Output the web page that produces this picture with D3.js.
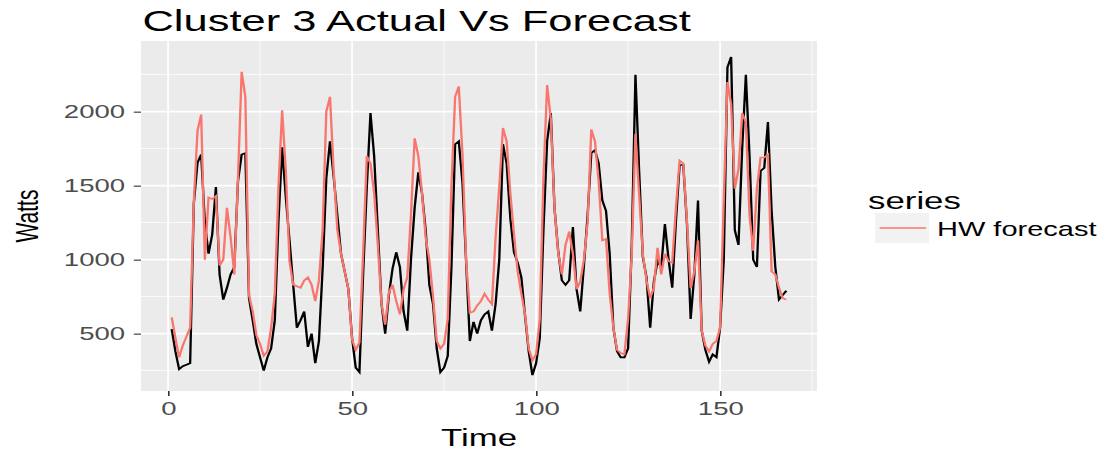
<!DOCTYPE html>
<html>
<head>
<meta charset="utf-8">
<script src="https://cdn.jsdelivr.net/npm/d3@7"></script>
<style>
  body { margin: 0; background: #fff; }
  text { font-family: "Liberation Sans", Arial, sans-serif; }
</style>
</head>
<body>
<svg class="svg"></svg>
<script>
// values, one per time step (1..168)
const actual = [
  530, 380, 260, 280, 290, 300, 1380, 1655, 1710, 1250, 1040, 1170, 1490, 900, 730, 810, 900, 950, 1530, 1710,
  1720, 740, 590, 430, 340, 250, 340, 400, 590, 1260, 1760, 1420, 1130, 830, 540, 590,
  650, 410, 500, 300, 450, 940, 1550, 1800, 1560, 1300, 1040, 920, 800, 470, 270, 240, 900, 1490, 1990, 1700,
  1200, 700, 500, 760, 940, 1050, 950, 650, 520, 1000, 1350, 1590, 1450, 1200, 830, 700,
  400, 240, 270, 350, 950, 1780, 1800, 1520, 980, 450, 580, 500, 590, 630, 650, 520, 700, 1000, 1780, 1650,
  1280, 1050, 980, 880, 620, 380, 220, 300, 470, 1200, 1800, 1990, 1350, 1060, 860, 830,
  860, 1220, 800, 650, 960, 1300, 1720, 1740, 1650, 1400, 1330, 1040, 540, 380, 340, 340, 400, 1100, 2250, 1600,
  1020, 880, 540, 850, 990, 950, 1240, 1000, 810, 1260, 1640, 1640, 1240, 600, 900, 1400,
  520, 390, 310, 360, 340, 540, 1000, 2300, 2370, 1200, 1100, 1750, 2250, 1700, 1000, 950, 1600, 1620, 1930, 1330,
  950, 730, 760, 790
];
const hwForecast = [
  610, 470, 340, 420, 480, 540, 1390, 1870, 1980, 1000, 1420, 1410, 1430, 960, 1000, 1350, 1150, 900, 1550, 2270,
  2100, 760, 650, 490, 430, 350, 380, 540, 770, 1490, 2010, 1600, 990, 830, 820, 810,
  860, 880, 830, 720, 860, 1200, 2000, 2100, 1600, 1200, 1040, 920, 800, 460, 390, 440, 1040, 1700, 1650, 1450,
  1100, 700, 560, 780, 830, 720, 630, 800, 880, 1300, 1820, 1700, 1450, 1150, 1000, 750,
  450, 400, 430, 600, 1500, 2100, 2170, 1710, 990, 640, 650, 690, 720, 770, 730, 700, 1150, 1490, 1890, 1800,
  1450, 1170, 920, 770, 630, 400, 320, 360, 600, 1550, 2180, 1950, 1350, 1050, 900, 1100,
  1190, 1040, 800, 850, 1000, 1250, 1880, 1800, 1530, 1130, 1140, 770, 540, 390, 370, 360, 600, 1040, 1850, 1440,
  1040, 860, 740, 810, 1080, 900, 1040, 990, 980, 1350, 1670, 1650, 1260, 810, 920, 1130,
  520, 420, 380, 430, 450, 540, 1400, 2200, 2050, 1480, 1610, 1990, 1930, 1300, 1060, 1480, 1690, 1690, 1710, 920,
  900, 810, 740, 730
];
const time = actual.map((d, i) => i + 1);
const xTicks = [0, 50, 100, 150];
const xMinor = [25, 75, 125, 175];
const yTicks = [500, 1000, 1500, 2000];
const yMinor = [250, 750, 1250, 1750, 2250];

// the reference is stretched sideways, so draw in a narrower box and let the viewBox stretch it
const W = 768, H = 450;
const svg = d3.select(".svg")
  .attr("width", 1113).attr("height", 450)
  .attr("viewBox", `0 0 ${W} ${H}`)
  .attr("preserveAspectRatio", "none");

const panel = { left: 97.3, right: 563.8, top: 41, bottom: 391 };

// ggplot style 5% expansion
const xr = d3.extent(time), yr = d3.extent(actual.concat(hwForecast));
const xPad = (xr[1] - xr[0]) * 0.05, yPad = (yr[1] - yr[0]) * 0.05;
const x = d3.scaleLinear().domain([xr[0] - xPad, xr[1] + xPad]).range([panel.left, panel.right]);
const y = d3.scaleLinear().domain([yr[0] - yPad, yr[1] + yPad]).range([panel.bottom, panel.top]);

svg.append("rect")
  .attr("x", panel.left).attr("y", panel.top)
  .attr("width", panel.right - panel.left).attr("height", panel.bottom - panel.top)
  .attr("fill", "#EBEBEB");

const grid = svg.append("g");
grid.selectAll(".ym").data(yMinor).join("line")
  .attr("x1", panel.left).attr("x2", panel.right)
  .attr("y1", d => y(d)).attr("y2", d => y(d))
  .attr("stroke", "#fff").attr("stroke-width", 0.8);
grid.selectAll(".xm").data(xMinor.filter(d => x(d) < panel.right)).join("line")
  .attr("y1", panel.top).attr("y2", panel.bottom)
  .attr("x1", d => x(d)).attr("x2", d => x(d))
  .attr("stroke", "#fff").attr("stroke-width", 0.6);
grid.selectAll(".yM").data(yTicks).join("line")
  .attr("x1", panel.left).attr("x2", panel.right)
  .attr("y1", d => y(d)).attr("y2", d => y(d))
  .attr("stroke", "#fff").attr("stroke-width", 1.6);
grid.selectAll(".xM").data(xTicks).join("line")
  .attr("y1", panel.top).attr("y2", panel.bottom)
  .attr("x1", d => x(d)).attr("x2", d => x(d))
  .attr("stroke", "#fff").attr("stroke-width", 1.2);

const line = d3.line().x((d, i) => x(time[i])).y(d => y(d));
svg.append("path").datum(actual)
  .attr("d", line).attr("fill", "none")
  .attr("stroke", "#000").attr("stroke-width", 1.6);
svg.append("path").datum(hwForecast)
  .attr("d", line).attr("fill", "none")
  .attr("stroke", "#F8766D").attr("stroke-width", 1.6);

// axes
const xAxis = svg.append("g")
  .attr("transform", `translate(0,${panel.bottom})`)
  .call(d3.axisBottom(x).tickValues(xTicks).tickFormat(d3.format("d")).tickSize(5).tickPadding(6));
const yAxis = svg.append("g")
  .attr("transform", `translate(${panel.left},0)`)
  .call(d3.axisLeft(y).tickValues(yTicks).tickFormat(d3.format("d")).tickSize(5).tickPadding(6));
[xAxis, yAxis].forEach(a => {
  a.select(".domain").remove();
  a.selectAll(".tick line").attr("stroke", "#333").attr("stroke-width", 1.1);
  a.selectAll(".tick text")
    .attr("fill", "#4D4D4D")
    .style("font-family", "'Liberation Sans', Arial, sans-serif")
    .style("font-size", "19px");
});

svg.append("text")
  .attr("x", panel.left + 1).attr("y", 31)
  .attr("font-size", 30).attr("fill", "#000")
  .text("Cluster 3 Actual Vs Forecast");

svg.append("text")
  .attr("x", (panel.left + panel.right) / 2).attr("y", 446)
  .attr("text-anchor", "middle").attr("font-size", 24)
  .text("Time");

svg.append("text")
  .attr("transform", `translate(26,${(panel.top + panel.bottom) / 2}) rotate(-90)`)
  .attr("text-anchor", "middle").attr("font-size", 21)
  .text("Watts");

// legend
const legend = svg.append("g");
legend.append("text")
  .attr("x", 599).attr("y", 209).attr("font-size", 24)
  .text("series");
legend.append("rect")
  .attr("x", 604).attr("y", 213).attr("width", 37).attr("height", 30)
  .attr("fill", "#F2F2F2");
legend.append("line")
  .attr("x1", 607).attr("x2", 639).attr("y1", 228).attr("y2", 228)
  .attr("stroke", "#F8766D").attr("stroke-width", 1.3);
legend.append("text")
  .attr("x", 646.6).attr("y", 236).attr("font-size", 20)
  .text("HW forecast");
</script>
</body>
</html>
